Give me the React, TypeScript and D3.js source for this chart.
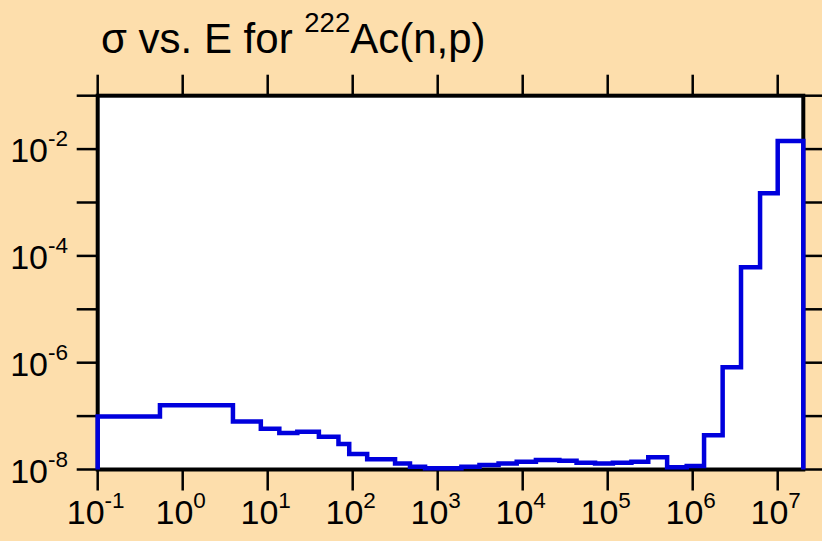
import React from "react";
import * as d3 from "d3";

// Bin edges of the histogram (energy, eV)
const binEdges: number[] = [
  0.1, 0.54, 3.9, 8.3, 13.7, 22.3, 40, 68, 91, 148, 315, 472, 710, 1900, 3100,
  5200, 8500, 14300, 27000, 43000, 71000, 115000, 190000, 300000, 500000,
  850000, 1.36e6, 2.25e6, 3.7e6, 6.2e6, 1.0e7, 2.0e7,
];
// Cross section value in each bin
const sigmaValues: number[] = [
  9.8e-8, 1.6e-7, 7.9e-8, 5.8e-8, 4.8e-8, 5.1e-8, 4.1e-8, 3.0e-8, 1.95e-8,
  1.55e-8, 1.3e-8, 1.13e-8, 1.05e-8, 1.13e-8, 1.21e-8, 1.3e-8, 1.4e-8, 1.5e-8,
  1.46e-8, 1.34e-8, 1.3e-8, 1.34e-8, 1.4e-8, 1.7e-8, 1.1e-8, 1.16e-8, 4.4e-8,
  8.2e-7, 6.1e-5, 1.49e-3, 1.42e-2,
];
const xTickExponents: number[] = [-1, 0, 1, 2, 3, 4, 5, 6, 7];
const yTickExponents: number[] = [-8, -7, -6, -5, -4, -3, -2, -1];
const yLabelExponents: number[] = [-8, -6, -4, -2];
const titleMain = "σ vs. E for ";
const titleSup = "222";
const titleRest = "Ac(n,p)";

const W = 822;
const H = 541;
const BG = "#fddeac";
const BLUE = "#0000dd";

export default function App() {
  const x = d3.scaleLog().domain([0.1, 2e7]).range([97.7, 803.3]);
  const y = d3.scaleLog().domain([1e-8, 1e-1]).range([469.5, 95.7]);
  const [x0, x1] = x.range();
  const [yb, yt] = y.range();

  const pts: [number, number][] = [];
  pts.push([binEdges[0], 1e-8]);
  sigmaValues.forEach((v, i) => {
    pts.push([binEdges[i], v]);
    pts.push([binEdges[i + 1], v]);
  });
  pts.push([binEdges[binEdges.length - 1], 1e-8]);
  const line = d3
    .line<[number, number]>()
    .x((d) => x(d[0]))
    .y((d) => y(d[1]));

  const font = "'Liberation Sans', Arial, Helvetica, sans-serif";
  const tickLen = 21;

  return (
    <div style={{ position: "fixed", left: 0, top: 0, width: W, height: H }}>
      <svg width={W} height={H} style={{ display: "block" }} fontFamily={font}>
        <rect x={0} y={0} width={W} height={H} fill={BG} />
        <text x={101} y={53} fontSize={42} fill="#000">
          {titleMain}
          <tspan fontSize={27.5} dy={-21}>
            {titleSup}
          </tspan>
          <tspan fontSize={42} dy={21}>
            {titleRest}
          </tspan>
        </text>
        <rect x={x0} y={yt} width={x1 - x0} height={yb - yt} fill="#fff" />
        {/* x ticks top and bottom */}
        {xTickExponents.map((e) => {
          const xx = x(Math.pow(10, e));
          return (
            <g key={"xt" + e}>
              <line x1={xx} x2={xx} y1={yt} y2={yt - tickLen} stroke="#000" strokeWidth={2.5} />
              <line x1={xx} x2={xx} y1={yb} y2={yb + tickLen} stroke="#000" strokeWidth={2.5} />
              <text x={xx - 2} y={524} fontSize={34} textAnchor="middle" fill="#000">
                10
                <tspan fontSize={22.5} dy={-16}>
                  {String(e)}
                </tspan>
              </text>
            </g>
          );
        })}
        {/* y ticks left and right */}
        {yTickExponents.map((e) => {
          const yy = y(Math.pow(10, e));
          return (
            <g key={"yt" + e}>
              <line x1={x0} x2={x0 - tickLen} y1={yy} y2={yy} stroke="#000" strokeWidth={2.5} />
              <line x1={x1} x2={x1 + tickLen} y1={yy} y2={yy} stroke="#000" strokeWidth={2.5} />
            </g>
          );
        })}
        {yLabelExponents.map((e) => {
          const yy = y(Math.pow(10, e));
          return (
            <text key={"yl" + e} x={68} y={yy + 13} fontSize={34} textAnchor="end" fill="#000">
              10
              <tspan fontSize={22.5} dy={-16}>
                {String(e)}
              </tspan>
            </text>
          );
        })}
        <rect
          x={x0}
          y={yt}
          width={x1 - x0}
          height={yb - yt}
          fill="none"
          stroke="#000"
          strokeWidth={4}
        />
        <path d={line(pts) || ""} fill="none" stroke={BLUE} strokeWidth={4.5} strokeLinejoin="miter" />
      </svg>
    </div>
  );
}
